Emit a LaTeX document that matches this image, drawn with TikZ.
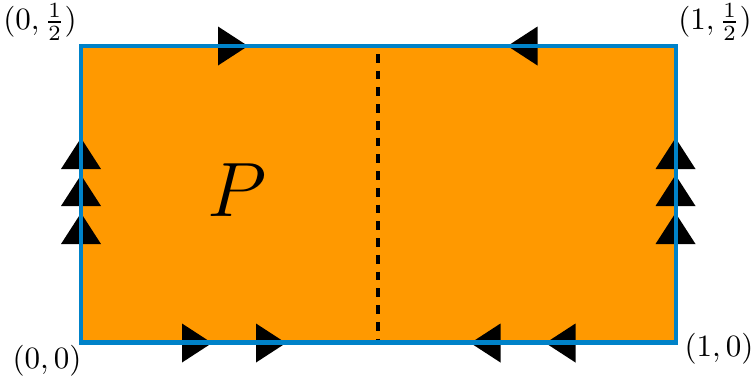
\documentclass[tikz,border=0pt]{standalone}
\definecolor{sheet}{RGB}{255,153,0}
\definecolor{edge}{RGB}{0,130,200}
\tikzset{
  px/.style={x=0.3226pt,y=-0.3226pt},
  rtri/.pic={\fill[black] (-15,-19.5) -- (15,0) -- (-15,19.5) -- cycle;},
  ltri/.pic={\fill[black] (15,-19.5) -- (-15,0) -- (15,19.5) -- cycle;},
  utri/.pic={\fill[black] (-20,15.5) -- (0,-15.5) -- (20,15.5) -- cycle;},
  border/.style={edge, line width=1.3pt},
  fold/.style={black, line width=1.3pt, dash pattern=on 2.8pt off 2.6pt},
  corner/.style={inner sep=0pt},
}
\begin{document}
\begin{tikzpicture}[px]
\useasboundingbox (0,0) rectangle (754,378);
% the sheet and its fold line
\fill[sheet] (81,46) rectangle (675.5,342.5);
\draw[fold] (378,54) -- (378,342.5);
% edge identifications
\pic at (233,46) {rtri};
\pic at (522.5,46) {ltri};
\pic at (197,343) {rtri};
\pic at (271,343) {rtri};
\pic at (485.5,343) {ltri};
\pic at (560.5,343) {ltri};
\foreach \y in {153.5,190.5,228.5} {
  \pic at (81,\y) {utri};
  \pic at (675.5,\y) {utri};
}
\draw[border] (81,46) rectangle (675.5,342.5);
% labels
\node[corner] (tl) at (40,22) {$(0,\frac{1}{2})$};
\node[corner] (tr) at (715,22) {$(1,\frac{1}{2})$};
\node[corner] (bl) at (47,361) {$(0,0)$};
\node[corner] (br) at (719,349) {$(1,0)$};
\node[corner] (P) at (237,190) {\fontsize{25.5}{30}\selectfont $P$};
\end{tikzpicture}
\end{document}
